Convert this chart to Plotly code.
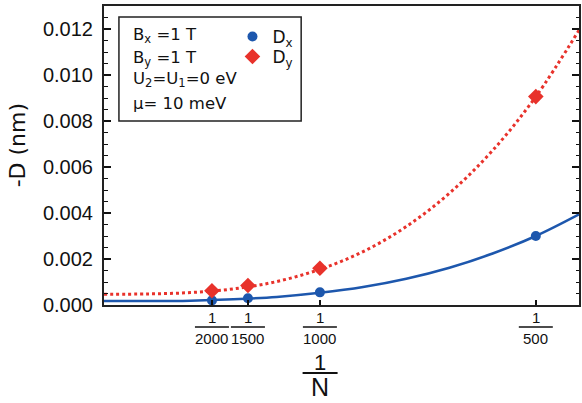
import plotly.graph_objects as go

# ---- data ----
inv_N = [1/2000, 1/1500, 1/1000, 1/500]
tick_den = ["2000", "1500", "1000", "500"]
Dx = [0.00020, 0.00029, 0.00055, 0.00300]
Dy = [0.00062, 0.00085, 0.00160, 0.00906]

fit_x = [0, 0.0002, 0.0004, 0.0006, 0.0008, 0.0010, 0.0012, 0.0014, 0.0016, 0.0018, 0.0020, 0.0022]
fit_blue = [0.00017, 0.00017, 0.00019, 0.00025, 0.00035, 0.00053, 0.00078, 0.00114, 0.00162, 0.00224, 0.00300, 0.00394]
fit_red = [0.00047, 0.00048, 0.00054, 0.00070, 0.00102, 0.00155, 0.00232, 0.00341, 0.00486, 0.00672, 0.00906, 0.01195]

info_lines = ["B<sub>x</sub> =1 T", "B<sub>y</sub> =1 T", "U<sub>2</sub>=U<sub>1</sub>=0 eV", "μ= 10 meV"]

BLUE = "#1d57ad"
RED = "#e8322b"
FONT = "Liberation Sans, Arial, Helvetica, sans-serif"
FONT2 = "DejaVu Sans, sans-serif"

W, H = 582, 403
ML, MR, MT, MB = 104, 1, 6, 98

fig = go.Figure()
fig.add_trace(go.Scatter(x=fit_x, y=fit_blue, mode="lines",
                         line=dict(color=BLUE, width=2.5, shape="spline", smoothing=1.0),
                         showlegend=False, hoverinfo="skip"))
fig.add_trace(go.Scatter(x=fit_x, y=fit_red, mode="lines",
                         line=dict(color=RED, width=3, dash="3px,3px", shape="spline", smoothing=1.0),
                         showlegend=False, hoverinfo="skip"))
fig.add_trace(go.Scatter(x=inv_N, y=Dx, mode="markers", name="D<sub>x</sub>", legend="legend",
                         marker=dict(color=BLUE, size=10, symbol="circle")))
fig.add_trace(go.Scatter(x=inv_N, y=Dy, mode="markers", name="D<sub>y</sub>", legend="legend2",
                         marker=dict(color=RED, size=12, symbol="diamond")))

pw = W - ML - MR
ph = H - MT - MB

def px_x(p):
    return (p - ML) / pw

def px_y(p):
    return (H - MB - p) / ph

annotations = []
shapes = []
# fraction tick labels
for v, d in zip(inv_N, tick_den):
    annotations.append(dict(x=v, xref="x", y=0, yref="paper", text="1", showarrow=False,
                            yanchor="middle", yshift=-12, font=dict(size=15, color="#111", family=FONT)))
    annotations.append(dict(x=v, xref="x", y=0, yref="paper", text=d, showarrow=False,
                            yanchor="middle", yshift=-33, font=dict(size=15, color="#111", family=FONT)))
    shapes.append(dict(type="line", xref="x", yref="paper", xsizemode="pixel", ysizemode="pixel",
                       xanchor=v, yanchor=0, x0=-17, x1=17, y0=-22, y1=-22,
                       line=dict(color="#111", width=1.5)))

# x title 1/N
xt = px_x(321)
annotations.append(dict(x=xt, xref="paper", y=0, yref="paper", text="1", showarrow=False,
                        yanchor="middle", yshift=-57, font=dict(size=22, color="#111", family=FONT)))
annotations.append(dict(x=xt, xref="paper", y=0, yref="paper", text="N", showarrow=False,
                        yanchor="middle", yshift=-82, font=dict(size=25, color="#111", family=FONT)))
shapes.append(dict(type="line", xref="paper", yref="paper", xsizemode="pixel", ysizemode="pixel",
                   xanchor=xt, yanchor=0, x0=-17.5, x1=17.5, y0=-68, y1=-68,
                   line=dict(color="#111", width=2)))

# y title
annotations.append(dict(x=px_x(17), xref="paper", y=px_y(145), yref="paper", text="-D (nm)",
                        textangle=-90, showarrow=False, xanchor="center", yanchor="middle",
                        font=dict(size=22, color="#111", family=FONT2)))

# info box
shapes.append(dict(type="rect", xref="paper", yref="paper", x0=px_x(119), x1=px_x(302),
                   y0=px_y(121), y1=px_y(17), line=dict(color="#222", width=1.5)))
for line, cy in zip(info_lines, [35, 58, 80, 103]):
    annotations.append(dict(x=px_x(131), xref="paper", y=px_y(cy), yref="paper",
                            text=line, showarrow=False, xanchor="left", yanchor="middle",
                            align="left", font=dict(size=16.5, color="#111", family=FONT2)))

leg_common = dict(xanchor="left", yanchor="top", bgcolor="rgba(0,0,0,0)",
                  font=dict(size=17, color="#111", family=FONT2), itemwidth=30)

fig.update_layout(
    width=W, height=H,
    margin=dict(l=ML, r=MR, t=MT, b=MB),
    paper_bgcolor="white", plot_bgcolor="white",
    font=dict(family=FONT, color="#111"),
    showlegend=True,
    legend=dict(x=px_x(233), y=px_y(19), **leg_common),
    legend2=dict(x=px_x(233), y=px_y(39), **leg_common),
    annotations=annotations,
    shapes=shapes,
    xaxis=dict(range=[0, 0.0022], tickvals=inv_N, ticktext=["" for _ in inv_N],
               ticks="inside", ticklen=5, tickwidth=1.5, tickcolor="#111",
               showline=True, linecolor="#222", linewidth=2, mirror=True,
               showgrid=False, zeroline=False),
    yaxis=dict(range=[0, 0.013], dtick=0.002, tick0=0, tickformat=".3f",
               ticks="inside", ticklen=7, tickwidth=1.5, tickcolor="#111",
               ticklabelstandoff=5,
               minor=dict(dtick=0.0005, ticks="inside", ticklen=3.5, tickwidth=1, tickcolor="#111"),
               tickfont=dict(size=20, color="#111", family=FONT),
               showline=True, linecolor="#222", linewidth=2, mirror="ticks",
               showgrid=False, zeroline=False),
)

fig.write_html("out.html", config={"displayModeBar": False},
               post_script="document.body.style.margin='0px';")
